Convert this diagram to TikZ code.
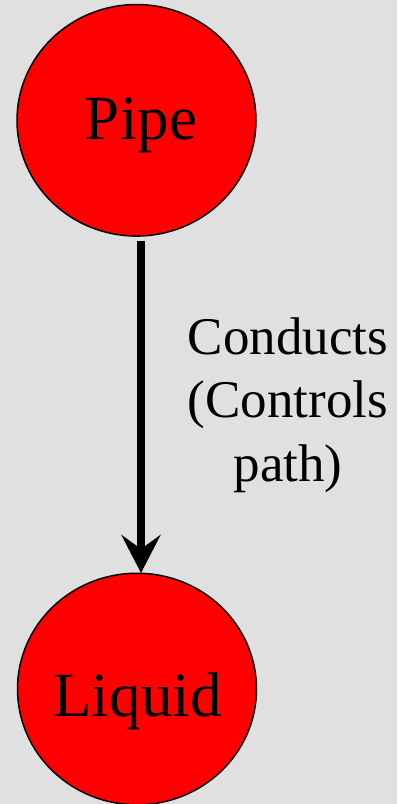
\documentclass[tikz,border=0pt]{standalone}
\usepackage{fontspec}
\setmainfont{LiberationSerif}[Extension=.ttf, UprightFont=*-Regular, BoldFont=*-Bold]
\usetikzlibrary{arrows.meta,shapes.geometric}
\definecolor{bg}{HTML}{E0E0E0}
\begin{document}
\begin{tikzpicture}[x=1pt,y=1pt,
  blob/.style={ellipse, draw=black, line width=1.5pt, fill=red, inner sep=0pt,
    minimum width=239pt, minimum height=231.5pt},
  bigtext/.style={font=\fontsize{63}{75}\selectfont, anchor=base, inner sep=0pt},
  lbltext/.style={font=\fontsize{53}{63}\selectfont, anchor=base, inner sep=0pt},
  arr/.style={line width=8pt, -{Stealth[length=38pt, width=39pt, inset=14pt]}}]
\fill[bg] (0,0) rectangle (397,804);
\useasboundingbox (0,0) rectangle (397,804);
\node[blob] (pipe) at (136.5,683.7) {};
\node[bigtext] (pipetext) at (141,664) {Pipe};
\node[blob] (liquid) at (137,115) {};
\node[bigtext] (liquidtext) at (137.5,87) {Liquid};
\coordinate (s) at (141,563);
\coordinate (e) at (141,231);
\draw[arr] (s) -- (e);
\node[lbltext] (l1) at (288,449) {Conducts};
\node[lbltext] (l2) at (288,386) {(Controls};
\node[lbltext] (l3) at (288,322) {path)};
\end{tikzpicture}
\end{document}
